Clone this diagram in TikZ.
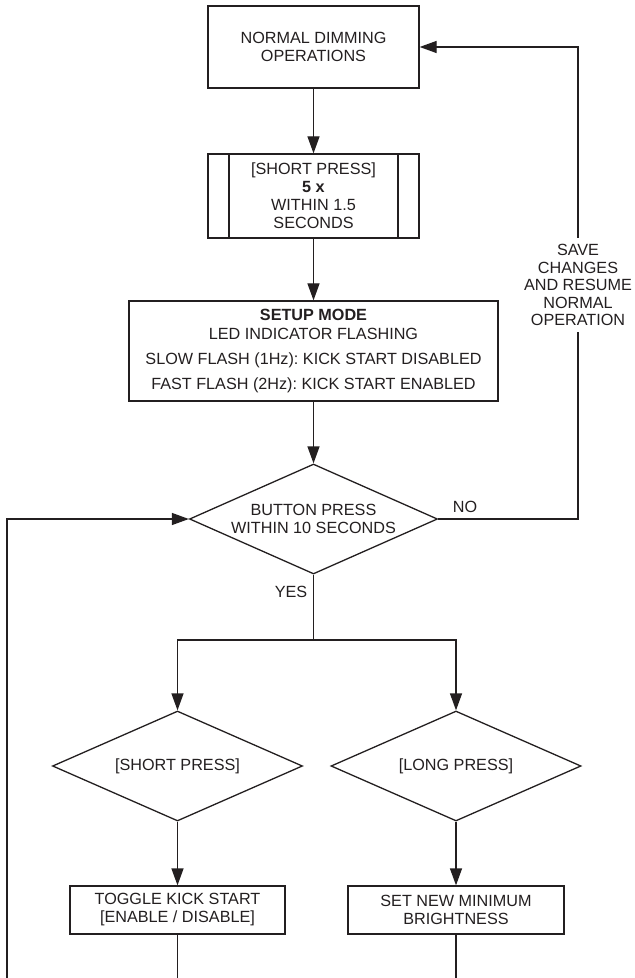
\documentclass[tikz,border=0pt]{standalone}
\usepackage{fontspec}
\setmainfont{Liberation Sans}
\usetikzlibrary{shapes.geometric,arrows.meta}
\definecolor{ink}{HTML}{231F20}
\frenchspacing
\begin{document}
\begin{tikzpicture}[x=0.5pt,y=-0.5pt,
  every node/.style={font=\fontsize{8.1pt}{9pt}\selectfont, align=center, inner sep=0pt, text=ink},
  box/.style={draw=ink, line width=0.65pt, rectangle},
  dia/.style={draw=ink, line width=0.65pt, diamond, inner sep=0pt, aspect=2.25},
  conn/.style={draw=ink, line width=0.65pt},
  arr/.style={conn, -{Triangle[length=8.5pt,width=6pt]}}]
\useasboundingbox[fill=white] (0,0) rectangle (635,978);

\node[box, minimum width=105.5pt, minimum height=41pt] (normal) at (313.5,47) {NORMAL DIMMING\\OPERATIONS};
\node[box, minimum width=105.5pt, minimum height=42pt,
  path picture={\draw[ink, line width=0.65pt]
    ([xshift=10.5pt]path picture bounding box.north west) -- ([xshift=10.5pt]path picture bounding box.south west)
    ([xshift=-10.5pt]path picture bounding box.north east) -- ([xshift=-10.5pt]path picture bounding box.south east);}]
  (press) at (313.5,196) {[SHORT PRESS]\\\textbf{5 x}\\WITHIN 1.5\\SECONDS};
\node[box, minimum width=184.5pt, minimum height=50pt] (setup) at (313.5,351)
  {\textbf{SETUP MODE}\\[0.5pt]LED INDICATOR FLASHING\\[3.5pt]SLOW FLASH (1Hz): KICK START DISABLED\\[3.5pt]FAST FLASH (2Hz): KICK START ENABLED};
\node[dia, minimum width=124pt, minimum height=55pt] (d1) at (313.5,519) {BUTTON PRESS\\WITHIN 10 SECONDS};
\node[dia, minimum width=125pt, minimum height=55pt] (d2) at (177.5,766) {[SHORT PRESS]};
\node[dia, minimum width=125pt, minimum height=55pt] (d3) at (456,766) {[LONG PRESS]};
\node[box, minimum width=107.5pt, minimum height=24pt] (tog) at (177.5,910) {TOGGLE KICK START\\{}[ENABLE / DISABLE]};
\node[box, minimum width=108pt, minimum height=24pt] (set) at (456,910) {SET NEW MINIMUM\\BRIGHTNESS};

\coordinate (br) at (313.5,640);
\coordinate (rc) at (578,519);
\coordinate (lb) at (7,978);
\coordinate (tb) at (177.5,978);
\coordinate (sb) at (456,978);

\draw[arr] (normal) -- (press);
\draw[arr] (press) -- (setup);
\draw[arr] (setup) -- (d1);
\draw[conn] (d1.south) -- (br);
\draw[arr] (br) -| (d2.north);
\draw[arr] (br) -| (d3.north);
\draw[arr] (d2) -- (tog);
\draw[arr] (d3) -- (set);
\draw[conn] (tog.south) -- (tb);
\draw[conn] (set.south) -- (sb);
\draw[arr] (lb) |- (d1.west);
\draw[arr] (d1.east) -- (rc) |- (normal.east);

\node[fill=white, inner ysep=3pt, inner xsep=1pt, font=\fontsize{8.1pt}{8.75pt}\selectfont] (save) at (578,285)
  {SAVE\\CHANGES\\AND RESUME\\NORMAL\\OPERATION};
\node (no) at (465,507) {NO};
\node (yes) at (291,592) {YES};
\end{tikzpicture}
\end{document}
